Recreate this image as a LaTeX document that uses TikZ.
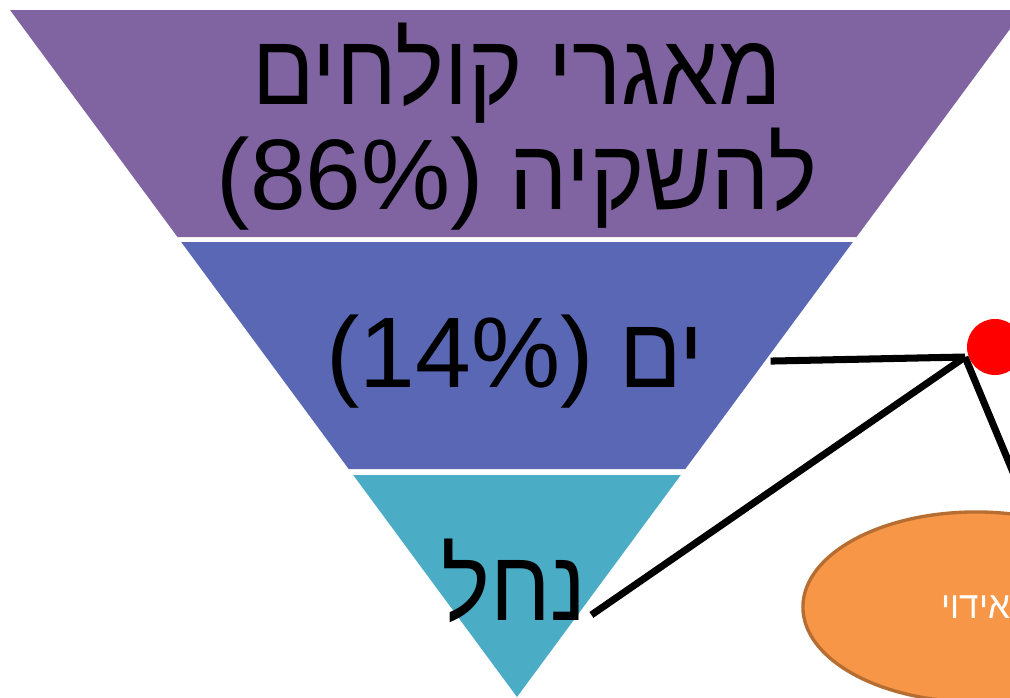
\documentclass[tikz,border=0pt]{standalone}
\usepackage{fontspec}
\newfontfamily\hebfont[Script=Hebrew,FakeStretch=0.92]{Liberation Sans}
\newfontfamily\numfont{Liberation Sans}
\TeXXeTstate=1
\usepackage{tikz}
\usetikzlibrary{shapes.geometric}
\usetikzlibrary{positioning}

\definecolor{bandpurple}{HTML}{8064A2}
\definecolor{bandblue}{HTML}{5A67B4}
\definecolor{bandteal}{HTML}{4BACC6}
\definecolor{evapfill}{HTML}{F79646}
\definecolor{evapline}{HTML}{B66D31}

\begin{document}
\begin{tikzpicture}[x=0.01cm, y=-0.01cm,
    layertext/.style={font=\hebfont\fontsize{28.5}{29.9}\selectfont, inner sep=0pt},
    link/.style={line width=2pt}]
  \useasboundingbox (0,0) rectangle (1010,697);
  \clip (0,0) rectangle (1010,697);
  \fill[bandpurple] (10,10) -- (1024,10) -- (856.5,237) -- (177.5,237) -- cycle;
  \fill[bandblue] (181.2,242) -- (852.8,242) -- (685.3,469) -- (348.7,469) -- cycle;
  \fill[bandteal] (353.2,475) -- (680.8,475) -- (517,697) -- cycle;
  \node[layertext, align=center] (l0) at (517,127) {\beginR מאגרי קולחים\endR\\
    \beginR להשקיה \beginL{\numfont(86\%)}\endL\endR};
  \node[layertext, anchor=base] (l1) at (515,387) {\beginR ים \beginL{\numfont(14\%)}\endL\endR};
  \node[layertext, anchor=base] (l2) at (514,620) {\beginR נחל\endR};
  \node[ellipse, draw=evapline, line width=0.95pt, fill=evapfill,
    minimum width=3.46cm, minimum height=1.9cm, text=white,
    font=\hebfont\fontsize{10.8}{13}\selectfont] (e0) at (976,607) {\beginR אידוי\endR};
  \node[circle, fill=red, minimum size=0.56cm, inner sep=0pt] (p0) at (995,347) {};
  \coordinate (c0) at (965,357);
  \coordinate (c1) at (1040,537);
  \draw[link] ([xshift=0.66cm]l1.east) -- (c0);
  \draw[link] ([shift={(4,-8)}]l2.south east) -- (c0);
  \draw[link] (c0) -- (c1);
\end{tikzpicture}
\end{document}
